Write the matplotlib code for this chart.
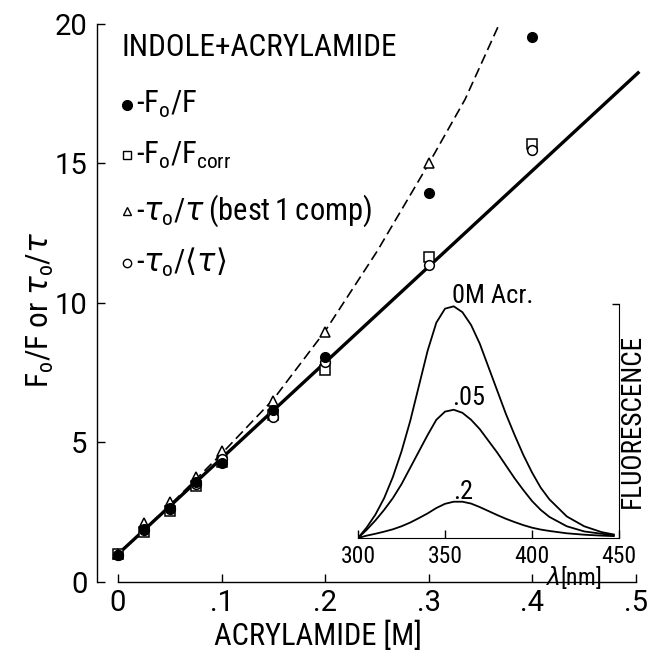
import numpy as np
import matplotlib
matplotlib.use("Agg")
import matplotlib.pyplot as plt

plt.rcParams['font.family'] = ['Roboto Condensed', 'DejaVu Sans']
plt.rcParams['mathtext.fontset'] = 'dejavusans'

# ====== Main panel data ======
acr = [0.0, 0.025, 0.05, 0.075, 0.1, 0.15, 0.2, 0.3, 0.4]
f0_f = [0.97, 1.9, 2.65, 3.6, 4.25, 6.15, 8.05, 13.95, 19.55]
f0_fcorr = [1.0, 1.8, 2.55, 3.45, 4.3, 6.0, 7.6, 11.65, 15.7]
tau_best = [1.0, 2.1, 2.85, 3.75, 4.7, 6.5, 8.95, 15.0]
tau_mean = [0.95, 1.85, 2.6, 3.5, 4.4, 5.9, 7.9, 11.35, 15.5]

# fitted straight line and dashed curve
fit_x = [0.0, 0.502]
fit_y = [1.0, 18.25]
dash_x = [0.0, 0.05, 0.1, 0.15, 0.2, 0.25, 0.3, 0.335, 0.368]
dash_y = [1.0, 2.75, 4.6, 6.55, 9.0, 11.85, 15.0, 17.3, 20.0]

# ====== Inset spectra ======
wl = [300, 305, 310, 315, 320, 325, 330, 335, 340, 345, 350, 355, 360, 365,
      370, 375, 380, 385, 390, 395, 400, 405, 410, 420, 430, 440, 447]
spec_0 = [0.0, 0.045, 0.10, 0.17, 0.26, 0.37, 0.50, 0.65, 0.80, 0.92, 0.98, 0.99,
          0.965, 0.91, 0.83, 0.73, 0.63, 0.53, 0.44, 0.355, 0.28, 0.215, 0.165,
          0.092, 0.05, 0.025, 0.015]
spec_05 = [0.0, 0.035, 0.075, 0.12, 0.17, 0.23, 0.30, 0.37, 0.44, 0.505, 0.54, 0.548,
           0.535, 0.505, 0.465, 0.415, 0.365, 0.31, 0.255, 0.205, 0.158, 0.12, 0.09,
           0.05, 0.028, 0.018, 0.012]
spec_2 = [0.0, 0.01, 0.018, 0.027, 0.037, 0.05, 0.066, 0.085, 0.105, 0.128, 0.146, 0.155,
          0.155, 0.147, 0.132, 0.115, 0.098, 0.082, 0.068, 0.055, 0.044, 0.036, 0.03,
          0.02, 0.014, 0.01, 0.008]

fig = plt.figure(figsize=(6.52, 6.54), dpi=100)
ax = fig.add_axes([0.1488, 0.1101, 0.8267, 0.8532])

ax.plot(fit_x, fit_y, color='black', lw=2.4, clip_on=False, zorder=2)
ax.plot(dash_x, dash_y, color='black', lw=1.2, dashes=(6, 3), zorder=2)

ax.plot(acr, f0_fcorr, ls='none', marker='s', ms=7.5, mfc='white', mec='black', mew=1.1, zorder=3)
ax.plot(acr[:len(tau_best)], tau_best, ls='none', marker='^', ms=7.5, mfc='white', mec='black', mew=1.1, zorder=3)
ax.plot(acr, tau_mean, ls='none', marker='o', ms=7, mfc='white', mec='black', mew=1.1, zorder=3)
ax.plot(acr, f0_f, ls='none', marker='o', ms=7, color='black', zorder=4)

ax.set_xlim(-0.0203, 0.5)
ax.set_ylim(0, 20)
ax.set_xticks([0, 0.1, 0.2, 0.3, 0.4, 0.5])
ax.set_xticklabels(['0', '.1', '.2', '.3', '.4', '.5'])
ax.set_yticks([0, 5, 10, 15, 20])
ax.set_yticklabels(['0', '5', '10', '15', '20'])
ax.spines['top'].set_visible(False)
ax.spines['right'].set_visible(False)
ax.spines['bottom'].set_bounds(0, 0.5)
for s in ['left', 'bottom']:
    ax.spines[s].set_linewidth(1.0)
ax.tick_params(direction='in', length=6, width=1.0, labelsize=21)
ax.tick_params(axis='x', pad=5)
ax.tick_params(axis='y', pad=7)
for t in ax.get_xticklabels() + ax.get_yticklabels():
    t.set_family(['Roboto', 'DejaVu Sans'])

# legend text block
ax.text(0.046, 0.957, 'INDOLE+ACRYLAMIDE', transform=ax.transAxes, fontsize=22.5,
        ha='left', va='center')
keys = [('o', 'black'), ('s', 'white'), ('^', 'white'), ('o', 'white')]
labels = [r'-F$_\mathregular{o}$/F',
          r'-F$_\mathregular{o}$/F$_\mathregular{corr}$',
          r'-$\tau_\mathregular{o}$/$\tau$$\mathregular{\,(best\,1\,comp)}$',
          r'-$\tau_\mathregular{o}$/$\langle\tau\rangle$']
rows = [0.855, 0.765, 0.665, 0.572]
for (m, fc), lab, yy in zip(keys, labels, rows):
    ax.plot([0.0557], [yy], transform=ax.transAxes, marker=m, ms=6 if fc == 'white' else 7,
            mfc=fc, mec='black', mew=1.0, ls='none', clip_on=False)
    ax.text(0.072, yy, lab, transform=ax.transAxes, fontsize=22, ha='left', va='center')

fig.text(40 / 652, 1 - 310 / 654, r'F$_\mathregular{o}$/F or $\tau_\mathregular{o}$/$\tau$',
         rotation=90, ha='center', va='center', fontsize=22.5)
fig.text(318 / 652, 1 - 636 / 654, 'ACRYLAMIDE [M]', ha='center', va='center', fontsize=22)

# ====== inset ======
ins = fig.add_axes([0.5491, 0.1774, 0.4003, 0.3578])
ins.patch.set_alpha(0)
for spec in [spec_0, spec_05, spec_2]:
    ins.plot(wl, spec, color='black', lw=1.3)
ins.set_xlim(300, 450)
ins.set_ylim(0, 1.0)
ins.spines['top'].set_visible(False)
ins.spines['left'].set_visible(False)
ins.set_xticks([300, 350, 400, 450])
ins.set_xticklabels(['300', '350', '400', '450'])
ins.set_yticks([1.0])
ins.yaxis.tick_right()
ins.tick_params(axis='y', labelright=False, direction='in', length=5, width=1.0)
ins.tick_params(axis='x', direction='in', length=6, width=1.0, labelsize=17, pad=5)
ins.text(354, 1.035, '0M Acr.', fontsize=19, ha='left', va='center')
ins.text(354, 0.6, '.05', fontsize=19, ha='left', va='center')
ins.text(354.5, 0.195, '.2', fontsize=19, ha='left', va='center')
ins.text(1.05, 0.5, 'FLUORESCENCE', transform=ins.transAxes, rotation=90,
         ha='center', va='center', fontsize=19.5)
ins.text(0.825, -0.17, r'$\lambda$[nm]', transform=ins.transAxes, ha='center',
         va='center', fontsize=17)

fig.savefig('out.png', dpi=100)
